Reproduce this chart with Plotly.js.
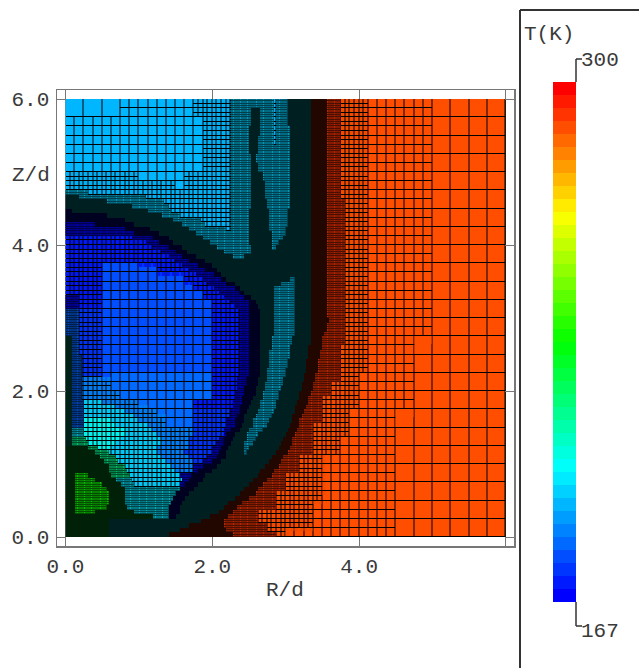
<!DOCTYPE html>
<html><head><meta charset="utf-8">
<script src="https://cdn.plot.ly/plotly-3.0.1.min.js"></script>
<style>html,body{margin:0;padding:0;background:#fff}</style></head>
<body><div id="chart" style="width:639px;height:668px"></div>
<script>
// Temperature (K) and mesh level of each flow region
const regionCodes = "ABCDEGHIJKLMNOPQRSTUVWXYZ".split("");
const regionTemp  = [288,288,288,292,293,197,170,196,193,193,193,169,172,176,177,183,186,196,203,200,215,234,225,210,182];
const regionMesh  = [0,1,2,3,4,4,4,3,2,1,0,3,2,2,1,1,2,2,2,3,3,3,4,4,3];
// Rows from Z/d = 6 to 4.75, each 0.125 high: region code + R/d where it ends
const upperRuns = [
"L.75 K1.75 J2.25 I2.83 J2.88 I3.03",
"L.75 K1.75 J2.25 I2.52 G2.65 I2.83 J2.88 I3.03",
"K1.875 J2.25 I2.52 G2.65 I2.83 J2.88 I3.03",
"K1.875 J2.25 I2.5 G2.65 I2.83 J2.88 I3.05",
"K1.875 J2.25 I2.5 G2.62 I2.83 J2.88 I3.05",
"K1.875 J2.25 I2.5 G2.62 I3.05",
"K1.875 J2.25 I2.52 G2.6 I3.05",
"K1.875 J2.25 I2.52 G2.62 I3.05",
"J1 K1.625 J2.25 I2.52 G2.7 I3.05",
"J1.5 K1.625 J2.25 I2.52 G2.72 I3.05"];
// Rows from Z/d = 4.75 to 0, each 0.0625 high
const lowerRuns = [
"I.31 J2.25 I2.52 G2.72 I3.05",
"G.2 I1.1 J2.25 I2.52 G2.72 I3.05",
"G.55 I1.33 J2.25 I2.52 G2.75 I3.05",
"G.9 I1.42 J2.25 I2.52 G2.75 I3.05",
"H.1 G1.12 I1.45 J2.25 I2.5 G2.78 I3.03",
"H.55 G1.3 I1.55 J2.25 I2.5 G2.78 I3.03",
"H.8 G1.47 I1.83 J2.25 I2.5 G2.78 I3.03",
"M.4 H.93 G1.58 I1.9 J2.25 I2.5 G2.78 I3.03",
"M.8 H1.15 G1.7 I2.2 J2.25 I2.5 G2.78 I3",
"M.95 H1.28 G1.78 I2.5 G2.8 I3",
"N.9 M1.18 H1.42 G1.88 I2.5 G2.82 I2.96",
"N1.1 M1.27 H1.47 G1.98 I2.5 G2.82 I2.9",
"N1.2 M1.42 H1.6 G2.07 I2.52 G2.82 I2.86",
"N1.3 M1.5 H1.65 G2.15 I2.52",
"N1.42 M1.6 H1.77 G2.27 I2.45",
"N1.5 M1.7 H1.9",
"N.5 P1 N1.6 M1.8 H2",
"N.5 P1.25 N1.7 M1.92 H2.06",
"N.5 P1.25 N1.77 M2.02 H2.12",
"N.5 P1.625 N1.87 M2.13 H2.2 G3.05 I3.13",
"N.5 P1.625 N1.95 M2.2 H2.3 G2.95 I3.12",
"N.5 P1.75 N2.03 M2.3 H2.37 G2.85 I3.12",
"N.5 P1.875 N2.1 M2.38 H2.45 G2.83 I3.12",
"M.2 N.5 P1.875 N2.15 M2.45 H2.52 G2.83 I3.12",
"M.2 N.5 P2 N2.25 M2.49 H2.58 G2.83 I3.12",
"M.2 N.5 P2 N2.3 M2.49 H2.62 G2.83 I3.12",
"Z.2 O.5 P2 N2.38 M2.49 H2.65 G2.83 I3.13",
"Z.2 O.5 P2 N2.38 M2.49 H2.67 G2.83 I3.13",
"Z.2 O.5 P2 N2.38 M2.49 H2.67 G2.83 I3.12",
"Z.2 O.5 P2 N2.38 M2.49 H2.67 G2.83 I3.12",
"Z.2 O.5 P2 N2.38 M2.49 H2.67 G2.83 I3.11",
"Z.2 O.5 P2 N2.38 M2.49 H2.67 G2.83 I3.11",
"Y.08 Z.2 O.5 P2 N2.38 M2.49 H2.67 G2.82 I3.09",
"Y.08 Z.2 O.5 P2 N2.38 M2.49 H2.67 G2.81 I3.08",
"Y.08 Z.2 O.5 P2 N2.38 M2.49 H2.67 G2.8 I3.07",
"Y.08 Z.2 O.5 P2 N2.38 M2.49 H2.67 G2.79 I3.06",
"Y.08 Z.22 O.5 P2 N2.37 M2.49 H2.67 G2.78 I3.05",
"Y.08 Z.22 O.5 P2 N2.37 M2.49 H2.67 G2.77 I3.03",
"Y.08 Z.22 O.5 P2 N2.37 M2.49 H2.66 G2.77 I3.02",
"Y.08 Z.22 O.5 P2 N2.36 M2.49 H2.66 G2.76 I3.01",
"Y.08 Z.22 O.5 P.625 Q2 N2.36 M2.49 H2.65 G2.75 I2.99",
"Y.08 Z.22 R.625 Q2 N2.35 M2.48 H2.64 G2.74 I2.97",
"Y.08 Z.22 R.625 Q2 N2.34 M2.46 H2.62 G2.73 I2.96",
"Y.08 Z.22 R.625 Q2 N2.33 M2.45 H2.6 G2.72 I2.94",
"Y.08 Z.22 R.75 Q2 N2.32 M2.43 H2.58 G2.7 I2.92",
"Y.08 Z.22 R.75 Q2 N2.3 M2.42 H2.56 G2.69 I2.9",
"Y.08 Z.24 S.5 R1 Q1.75 N2.29 M2.4 H2.53 G2.67 I2.88",
"Y.08 Z.24 S.7 R1.125 Q1.75 N2.28 M2.38 H2.5 G2.65 I2.86",
"Y.08 Z.24 S.8 R1.25 Q1.75 O2.25 M2.36 H2.47 G2.63 I2.84",
"Y.08 Z.24 S.9 R1.375 Q1.75 O2.25 M2.33 H2.45 G2.6 I2.81",
"Y.08 Z.24 T.6 S1 R1.375 Q1.75 O2.2 M2.32 H2.43 G2.57 I2.78",
"Y.08 Z.24 T.7 S1.1 R1.375 Q1.75 O2.2 M2.3 H2.4 G2.55 I2.75",
"Y.1 U.24 T.8 S1.2 R1.75 O2.15 M2.25 H2.37 G2.5 I2.68",
"Y.1 U.24 T.8 S1.25 R1.75 O2.15 M2.2 H2.3 G2.48 I2.63",
"Y.1 V.28 T.75 S1.3 R1.7 O2.1 M2.17 H2.27 G2.46 I2.59",
"Y.1 V.32 T.65 S1.3 R1.7 O2.05 M2.15 H2.25 G2.45 I2.56",
"X.3 V.45 T.6 S1.25 R1.65 O2 M2.12 H2.22 G2.44 I2.5",
"X.42 V.6 S1.25 R1.6 O2 M2.1 H2.2 G2.44 I2.46",
"X.47 V.68 S1.3 R1.7 O1.93 M2.05 H2.18",
"X.52 V.72 S1.35 R1.75 O1.88 M2 H2.13",
"X.58 V.8 S1.4 R1.75 M1.88 H2.07",
"X.6 V.85 S1.5 R1.75 M1.82 H2",
"X.13 W.3 X.63 V.88 S1.55 M1.72 H1.92",
"X.13 W.42 X.7 U.9 S1.6 M1.68 H1.88",
"X.13 W.5 X.75 U.95 S1.55 M1.62 H1.8",
"X.13 W.55 X.8 U1.55 H1.74",
"X.13 W.58 X.82 U1.5 H1.68",
"X.13 W.6 X.82 U1.47 H1.62",
"X.13 W.6 X.82 U1.43 H1.58",
"X.13 W.55 X.85 U1.42 H1.55",
"X.13 W.42 X.95 U1.42 H1.55",
"X1.2 U1.4 H1.5",
"X.6","X.6","X.6","X.6"];
// Right-hand boundaries (R/d) for the same rows, upper rows first: [value, rows] pairs and single values
const edgeTealEnd = [[3.35,42],3.33,3.33,3.32,3.31,3.3,3.29,3.28,3.27,3.26,3.25,3.23,3.22,3.2,3.18,3.16,3.14,3.12,3.1,3.08,3.06,3.04,3.01,2.98,2.95,2.92,2.87,2.82,2.77,2.72,2.67,2.62,2.56,2.5,2.44,2.38,2.3,2.22,2.15,2.08,1.97,1.85,1.7,1.55,1.4];
const edgeHotBand = [[3.55,36],3.56,3.57,3.58,3.57,3.55,3.54,3.5,3.5,3.49,3.48,3.46,3.45,3.44,3.43,3.42,3.4,3.38,3.36,3.34,3.32,3.3,3.28,3.26,3.23,3.2,3.18,3.16,3.13,3.1,3.08,3.06,3.02,2.98,2.94,2.9,2.85,2.8,2.75,2.7,2.64,2.58,2.5,2.42,2.35,2.28,2.22,2.17,2.15,2.2,2.28];
const edgeMesh3 = [[3.75,12],[3.8125,32],[3.75,8],[3.625,3],[3.5,6],[3.375,7],[3.1875,4],[3,4],[2.875,4],[2.625,3],[2.75,2],[2.875,1]];
const edgeMesh2 = [[4.125,50],[4,8],[3.875,6],[3.75,4],[3.5625,9],[3.5,2],[3.375,6],[3.0625,1]];
const edgeMesh1 = [[5,43],[4.875,3],[4.75,13],[4.625,3],[4.5,24]];
const xTickVals = [0,2,4,6], xTickText = ["0.0","2.0","4.0",""];
const yTickVals = [0,2,4,6], yTickText = ["0.0","2.0","4.0","6.0"];
const tMin = 167, tMax = 300;

const expand = a => a.flatMap(v => Array.isArray(v) ? Array(v[1]).fill(v[0]) : [v]);
const tealEnd=expand(edgeTealEnd), hotBand=expand(edgeHotBand), mesh3=expand(edgeMesh3), mesh2=expand(edgeMesh2), mesh1=expand(edgeMesh1);

// layout helpers
const W=639,H=668,L=57,R=514,T=90,B=546;
const px = x => (x-L)/(R-L), py = y => (B-y)/(B-T);
const FONT = '"Liberation Mono", monospace';
const TXT = '#3a3a3a';

// stepped rainbow colour scale
const STEPS = 40;
function rainbow(p){
  let r,g,b;
  if(p<.25){r=0;g=p/.25*255;b=255}
  else if(p<.5){r=0;g=255;b=255*(1-(p-.25)/.25)}
  else if(p<.75){r=(p-.5)/.25*255;g=255;b=0}
  else {r=255;g=255*(1-(p-.75)/.25);b=0}
  return [r,g,b];
}
function scale(f){
  const s=[];
  for(let i=0;i<STEPS;i++){
    const c=rainbow(i/(STEPS-1)).map(v=>Math.round(v*f));
    const col=`rgb(${c[0]},${c[1]},${c[2]})`;
    s.push([i/STEPS,col],[(i+1)/STEPS,col]);
  }
  return s;
}
const allRuns = upperRuns.concat(lowerRuns);
const parsed = allRuns.map((row,k)=>{
  const all = row+` G${tealEnd[k]} E${hotBand[k]} D${mesh3[k]} C${mesh2[k]} B${mesh1[k]} A6`;
  return all.split(" ").map(t=>[t[0],parseFloat(t.slice(1))]);
});
function regionAt(x,z){
  const k = z>=4.75 ? Math.floor((6-z)/0.125+1e-9) : Math.min(85,10+Math.floor((4.75-z)/0.0625+1e-9));
  for(const [c,e] of parsed[k]) if(x<e) return regionCodes.indexOf(c);
  return 0;
}
// One heatmap per mesh level: cell size, line gap, colour strength
const FINE=.03125;
const meshLayers=[
 {lev:0,s:.25,gap:1,f:1},{lev:1,s:.125,gap:1,f:1},{lev:2,s:.0625,gap:1,f:.95},
 {lev:3,s:FINE,gap:0,f:.3},{lev:3,s:FINE,gap:1,f:.72},{lev:4,s:FINE,gap:0,f:.13}];
const traces=meshLayers.map((m,idx)=>{
  const s=m.s,n=Math.round(6/s),sub=Math.round(s/FINE),xs=[],ys=[],zz=[];
  for(let i=0;i<n;i++){xs.push((i+.5)*s);ys.push((i+.5)*s)}
  for(let j=0;j<n;j++){
    const r=[];
    for(let i=0;i<n;i++){
      let v=null;
      for(let a=0;a<sub&&v===null;a++)for(let b=0;b<sub&&v===null;b++){
        const c=regionAt(i*s+(a+.5)*FINE,j*s+(b+.5)*FINE);
        if(regionMesh[c]===m.lev)v=regionTemp[c];
      }
      r.push(v);
    }
    zz.push(r);
  }
  const t={type:'heatmap',x:xs,y:ys,z:zz,zmin:tMin,zmax:tMax,xgap:m.gap,ygap:m.gap,
    colorscale:scale(m.f),showscale:false,hoverinfo:'skip'};
  if(idx===0){
    t.showscale=true;
    t.colorbar={x:px(553),xanchor:'left',y:py(342),yanchor:'middle',
      lenmode:'pixels',len:520,thicknessmode:'pixels',thickness:23,xpad:0,ypad:0,
      outlinewidth:0,borderwidth:0,ticks:'',showticklabels:false};
  }
  return t;
});
const line=(x0,y0,x1,y1,color,width)=>({type:'line',xref:'paper',yref:'paper',x0:px(x0),y0:py(y0),x1:px(x1),y1:py(y1),line:{color,width},layer:'above'});
const shapes=[
 {type:'rect',xref:'x',yref:'y',x0:0,x1:6,y0:0,y1:6,fillcolor:'#000',line:{width:0},layer:'below'},
 line(520,10,520,668,'#333',2), line(520,10,639,10,'#333',2),
 line(576,82,576,59,'#333',1.5), line(576,59,582,59,'#333',1.5),
 line(576,602,576,626,'#333',1.5), line(576,626,582,626,'#333',1.5)
];
const ann=(x,y,text)=>({xref:'paper',yref:'paper',x:px(x),y:py(y),text,showarrow:false,xanchor:'center',yanchor:'middle',font:{family:FONT,size:21,color:TXT}});
const axis={showgrid:false,zeroline:false,showline:true,linecolor:'#777',linewidth:1.5,mirror:'allticks',
  ticks:'inside',ticklen:9,tickwidth:1,tickcolor:'#777',tickfont:{family:FONT,size:21,color:TXT},tickmode:'array'};
const layout={width:W,height:H,margin:{l:L,r:W-R,t:T,b:H-B,pad:0},paper_bgcolor:'#fff',plot_bgcolor:'#fff',showlegend:false,
  xaxis:Object.assign({},axis,{range:[(L-65.5)/73.4,(R-65.5)/73.4],tickvals:xTickVals,ticktext:xTickText}),
  yaxis:Object.assign({},axis,{range:[(537-B)/73,(537-T)/73],tickvals:yTickVals,ticktext:yTickText,ticklabelstandoff:2}),
  shapes,
  annotations:[ann(31,175,'Z/d'),ann(285,590,'R/d'),ann(549,34,'T(K)'),ann(600,61,'300'),ann(600,631,'167')]};
Plotly.newPlot('chart',traces,layout,{displayModeBar:false,staticPlot:true});
</script></body></html>
